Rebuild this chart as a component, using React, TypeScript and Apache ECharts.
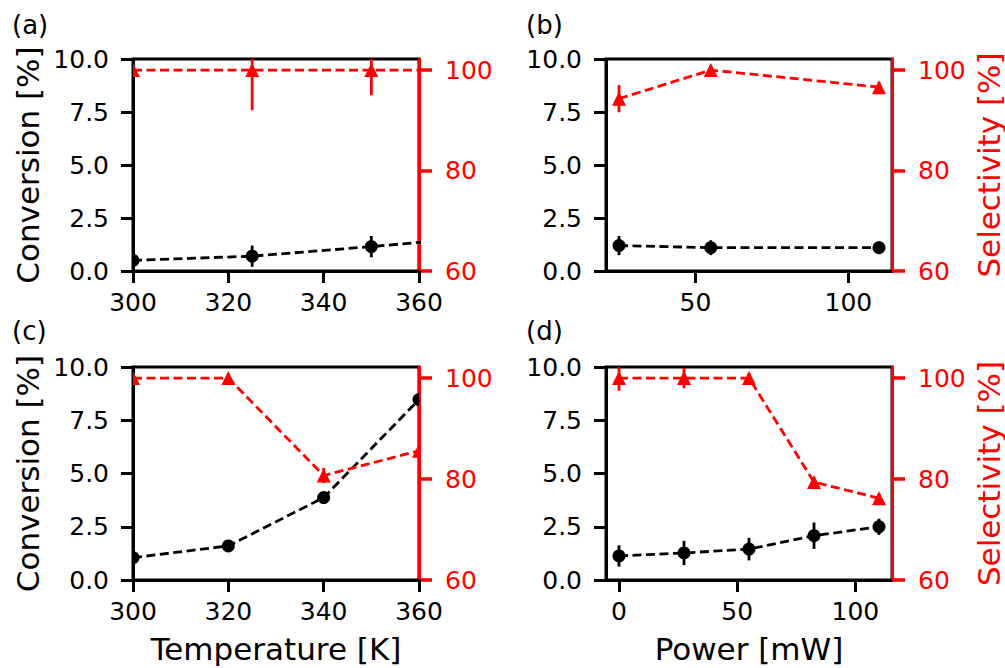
import React, { useEffect, useRef } from "react";
import * as echarts from "echarts";

// ---- data ----
const tempA = [300, 325, 350, 375];
const convA = [0.5, 0.7, 1.15, 1.65];
const convErrA = [0.4, 0.5, 0.5, 0.5];
const selA = [100, 100, 100, 100];
const selErrA = [1, 8, 5, 1];

const powerB = [25, 55, 110];
const convB = [1.2, 1.1, 1.1];
const convErrB = [0.45, 0.35, 0.3];
const selB = [94.3, 100, 96.6];
const selErrB = [2.7, 1, 1];

const tempC = [300, 320, 340, 360];
const convC = [1.05, 1.6, 3.87, 8.47];
const convErrC = [0.15, 0.15, 0.2, 0.2];
const selC = [100, 100, 80.7, 85.6];
const selErrC = [0.5, 0.5, 1.5, 0.5];

const powerD = [0, 27.5, 55, 82.5, 110];
const convD = [1.13, 1.27, 1.45, 2.08, 2.5];
const convErrD = [0.5, 0.57, 0.53, 0.62, 0.38];
const selD = [100, 100, 100, 79.4, 76.2];
const selErrD = [2.5, 2, 1, 1, 0.8];

const tempTicks = [300, 320, 340, 360];
const powerTicksB = [50, 100];
const powerTicksD = [0, 50, 100];
const convTicks = [0, 2.5, 5, 7.5, 10];
const selTicks = [60, 80, 100];

const panelLabels = ["(a)", "(b)", "(c)", "(d)"];

const FONT = "DejaVu Sans";
const RED = "#ff0000";
const BLACK = "#000000";

export default function App() {
  const ref = useRef<HTMLDivElement>(null);

  useEffect(() => {
    if (!ref.current) return;
    const chart = echarts.init(ref.current, undefined, { renderer: "svg" });

    const grids = [
      { left: 133, top: 59, width: 286, height: 212 },
      { left: 606, top: 59, width: 286, height: 212 },
      { left: 133, top: 367, width: 286, height: 213 },
      { left: 606, top: 367, width: 286, height: 213 },
    ];

    const xCfg = [
      { min: 300, max: 360, ticks: tempTicks, name: "" },
      { min: 20.75, max: 114.25, ticks: powerTicksB, name: "" },
      { min: 300, max: 360, ticks: tempTicks, name: "Temperature [K]" },
      { min: -5.5, max: 115.5, ticks: powerTicksD, name: "Power [mW]" },
    ];

    const xAxis = xCfg.map((c, i) => ({
      type: "value",
      gridIndex: i,
      min: c.min,
      max: c.max,
      name: c.name,
      nameLocation: "middle",
      nameGap: 53,
      nameMoveOverlap: false,
      nameTextStyle: { fontFamily: FONT, fontSize: 31, color: BLACK },
      axisLine: { show: true, onZero: false, lineStyle: { color: BLACK, width: 3 } },
      axisTick: { show: true, length: 12, lineStyle: { color: BLACK, width: 3 }, customValues: c.ticks },
      axisLabel: { fontFamily: FONT, fontSize: 25, color: BLACK, margin: 19, customValues: c.ticks },
      splitLine: { show: false },
    }));

    const yAxis: any[] = [];
    for (let i = 0; i < 4; i++) {
      const left = i % 2 === 0;
      yAxis.push({
        type: "value",
        gridIndex: i,
        position: "left",
        min: 0,
        max: 10,
        name: left ? "Conversion [%]" : "",
        nameLocation: "middle",
        nameRotate: 90,
        nameGap: 90,
        nameMoveOverlap: false,
        nameTextStyle: { fontFamily: FONT, fontSize: 31, color: BLACK },
        axisLine: { show: true, onZero: false, lineStyle: { color: BLACK, width: 3 } },
        axisTick: { show: true, length: 12, lineStyle: { color: BLACK, width: 3 }, customValues: convTicks },
        axisLabel: {
          fontFamily: FONT,
          fontSize: 25,
          color: BLACK,
          margin: 24,
          customValues: convTicks,
          formatter: (v: number) => v.toFixed(1),
        },
        splitLine: { show: false },
      });
      yAxis.push({
        type: "value",
        gridIndex: i,
        position: "right",
        min: 60,
        max: 102.2,
        name: left ? "" : "Selectivity [%]",
        nameLocation: "middle",
        nameRotate: 90,
        nameGap: 81,
        nameMoveOverlap: false,
        nameTextStyle: { fontFamily: FONT, fontSize: 31, color: RED },
        axisLine: { show: true, onZero: false, lineStyle: { color: RED, width: 3 } },
        axisTick: { show: true, length: 13, lineStyle: { color: RED, width: 3.5 }, customValues: selTicks },
        axisLabel: { fontFamily: FONT, fontSize: 25, color: RED, margin: 26, customValues: selTicks },
        splitLine: { show: false },
      });
    }

    const panels = [
      { x: tempA, c: convA, ce: convErrA, s: selA, se: selErrA },
      { x: powerB, c: convB, ce: convErrB, s: selB, se: selErrB },
      { x: tempC, c: convC, ce: convErrC, s: selC, se: selErrC },
      { x: powerD, c: convD, ce: convErrD, s: selD, se: selErrD },
    ];

    const makeMarker = (color: string, shape: "circle" | "triangle") => (params: any, api: any) => {
      const x = api.value(0);
      const y = api.value(1);
      const e = api.value(2);
      const p = api.coord([x, y]);
      const lo = api.coord([x, y - e]);
      const hi = api.coord([x, y + e]);
      const bar = {
        type: "line",
        shape: { x1: p[0], y1: lo[1], x2: p[0], y2: hi[1] },
        style: { stroke: color, lineWidth: 2.8 },
      };
      const h = 7;
      const mk =
        shape === "circle"
          ? { type: "circle", shape: { cx: p[0], cy: p[1], r: 6.5 }, style: { fill: color } }
          : {
              type: "polygon",
              shape: {
                points: [
                  [p[0], p[1] - h],
                  [p[0] - h, p[1] + h],
                  [p[0] + h, p[1] + h],
                ],
              },
              style: { fill: color },
            };
      return { type: "group", children: [bar, mk] };
    };

    const series: any[] = [];
    panels.forEach((pn, i) => {
      const cData = pn.x.map((xv, k) => [xv, pn.c[k], pn.ce[k]]);
      const sData = pn.x.map((xv, k) => [xv, pn.s[k], pn.se[k]]);
      series.push({
        type: "line",
        xAxisIndex: i,
        yAxisIndex: 2 * i,
        data: cData.map((d) => [d[0], d[1]]),
        showSymbol: false,
        symbol: "none",
        clip: true,
        lineStyle: { color: BLACK, width: 2.8, type: [9, 4.5] },
        silent: true,
      });
      series.push({
        type: "custom",
        xAxisIndex: i,
        yAxisIndex: 2 * i,
        data: cData,
        encode: { x: 0, y: 1 },
        clip: true,
        renderItem: makeMarker(BLACK, "circle"),
        silent: true,
      });
      series.push({
        type: "line",
        xAxisIndex: i,
        yAxisIndex: 2 * i + 1,
        data: sData.map((d) => [d[0], d[1]]),
        showSymbol: false,
        symbol: "none",
        clip: true,
        lineStyle: { color: RED, width: 2.8, type: [9, 4.5] },
        silent: true,
      });
      series.push({
        type: "custom",
        xAxisIndex: i,
        yAxisIndex: 2 * i + 1,
        data: sData,
        encode: { x: 0, y: 1 },
        clip: true,
        renderItem: makeMarker(RED, "triangle"),
        silent: true,
      });
    });

    const labelPos = [
      [12, 12],
      [526, 12],
      [12, 318],
      [526, 318],
    ];

    const option: any = {
      animation: false,
      backgroundColor: "#ffffff",
      grid: grids.map((g) => ({
        ...g,
        show: true,
        borderColor: BLACK,
        borderWidth: 3,
        backgroundColor: "transparent",
        containLabel: false,
      })),
      xAxis,
      yAxis,
      series,
      graphic: panelLabels.map((t, i) => ({
        type: "text",
        left: labelPos[i][0],
        top: labelPos[i][1],
        style: { text: t, fontFamily: FONT, fontSize: 26, fill: BLACK },
      })),
    };

    chart.setOption(option);
    return () => chart.dispose();
  }, []);

  return (
    <div
      ref={ref}
      style={{ position: "fixed", left: 0, top: 0, width: 1005, height: 668, background: "#fff" }}
    />
  );
}
